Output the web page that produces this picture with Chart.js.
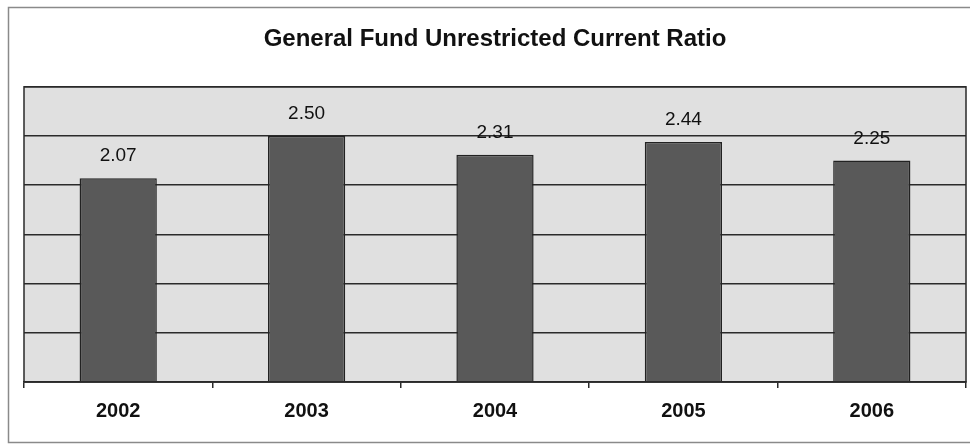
<!DOCTYPE html>
<html>
<head>
<meta charset="utf-8">
<script src="https://cdn.jsdelivr.net/npm/chart.js@4/dist/chart.umd.min.js"></script>
<style>
  html, body { margin: 0; padding: 0; background: #fff; }
  #wrap { width: 970px; height: 445px; }
</style>
</head>
<body>
<div id="wrap"><canvas id="ratioChart"></canvas></div>
<script>
let years = ['2002', '2003', '2004', '2005', '2006']
let ratios = [2.07, 2.50, 2.31, 2.44, 2.25]
let yMin = 0
let yMax = 3
let yStep = 0.5

const fontFamily = '"Liberation Sans", Arial, sans-serif'

// grey plot background, plot frame and outer frame
const framePlugin = {
    id: 'frame',
    beforeDraw(chart) {
        const ctx = chart.ctx
        const a = chart.chartArea
        ctx.save()
        ctx.strokeStyle = '#8a8a8a'
        ctx.lineWidth = 1.5
        ctx.strokeRect(8.5, 7.5, 975, 435)
        ctx.fillStyle = '#e0e0e0'
        ctx.fillRect(a.left, a.top, a.right - a.left, a.bottom - a.top)
        ctx.restore()
    },
    afterDraw(chart) {
        const ctx = chart.ctx
        const a = chart.chartArea
        ctx.save()
        ctx.strokeStyle = '#2a2a2a'
        ctx.lineWidth = 1.5
        ctx.strokeRect(a.left, a.top, a.right - a.left, a.bottom - a.top)
        ctx.restore()
    }
}

// value above each bar
const valueLabels = {
    id: 'valueLabels',
    afterDatasetsDraw(chart) {
        const ctx = chart.ctx
        const meta = chart.getDatasetMeta(0)
        ctx.save()
        ctx.font = '19px ' + fontFamily
        ctx.fillStyle = '#111'
        ctx.textAlign = 'center'
        ctx.textBaseline = 'alphabetic'
        meta.data.forEach((bar, i) => {
            ctx.fillText(ratios[i].toFixed(2), bar.x, bar.y - 17)
        })
        ctx.restore()
    }
}

let ctx = document.getElementById('ratioChart').getContext('2d')
let ratioChart = new Chart(ctx, {
    type: 'bar',
    data: {
        labels: years,
        datasets: [{
            data: ratios,
            backgroundColor: '#595959',
            borderColor: '#222',
            borderWidth: 1.5,
            barPercentage: 0.41,
            categoryPercentage: 1
        }]
    },
    options: {
        responsive: true,
        maintainAspectRatio: false,
        animation: false,
        devicePixelRatio: 1,
        layout: {
            padding: { left: 24, right: 4, top: 0, bottom: 11 }
        },
        plugins: {
            legend: { display: false },
            tooltip: { enabled: false },
            title: {
                display: true,
                text: 'General Fund Unrestricted Current Ratio',
                color: '#111',
                font: { family: fontFamily, size: 24, weight: 'bold' },
                padding: { top: 25, bottom: 33 }
            }
        },
        scales: {
            x: {
                grid: {
                    offset: true,
                    drawOnChartArea: false,
                    color: '#2a2a2a',
                    tickLength: 6,
                    lineWidth: 1.5
                },
                border: { display: true, color: '#2a2a2a', width: 1.5 },
                ticks: {
                    color: '#111',
                    padding: 11,
                    font: { family: fontFamily, size: 20, weight: 'bold' }
                }
            },
            y: {
                min: yMin,
                max: yMax,
                ticks: { display: false, stepSize: yStep },
                grid: { color: '#2a2a2a', lineWidth: 1.5, drawTicks: false },
                border: { display: false }
            }
        }
    },
    plugins: [framePlugin, valueLabels]
})
</script>
</body>
</html>
